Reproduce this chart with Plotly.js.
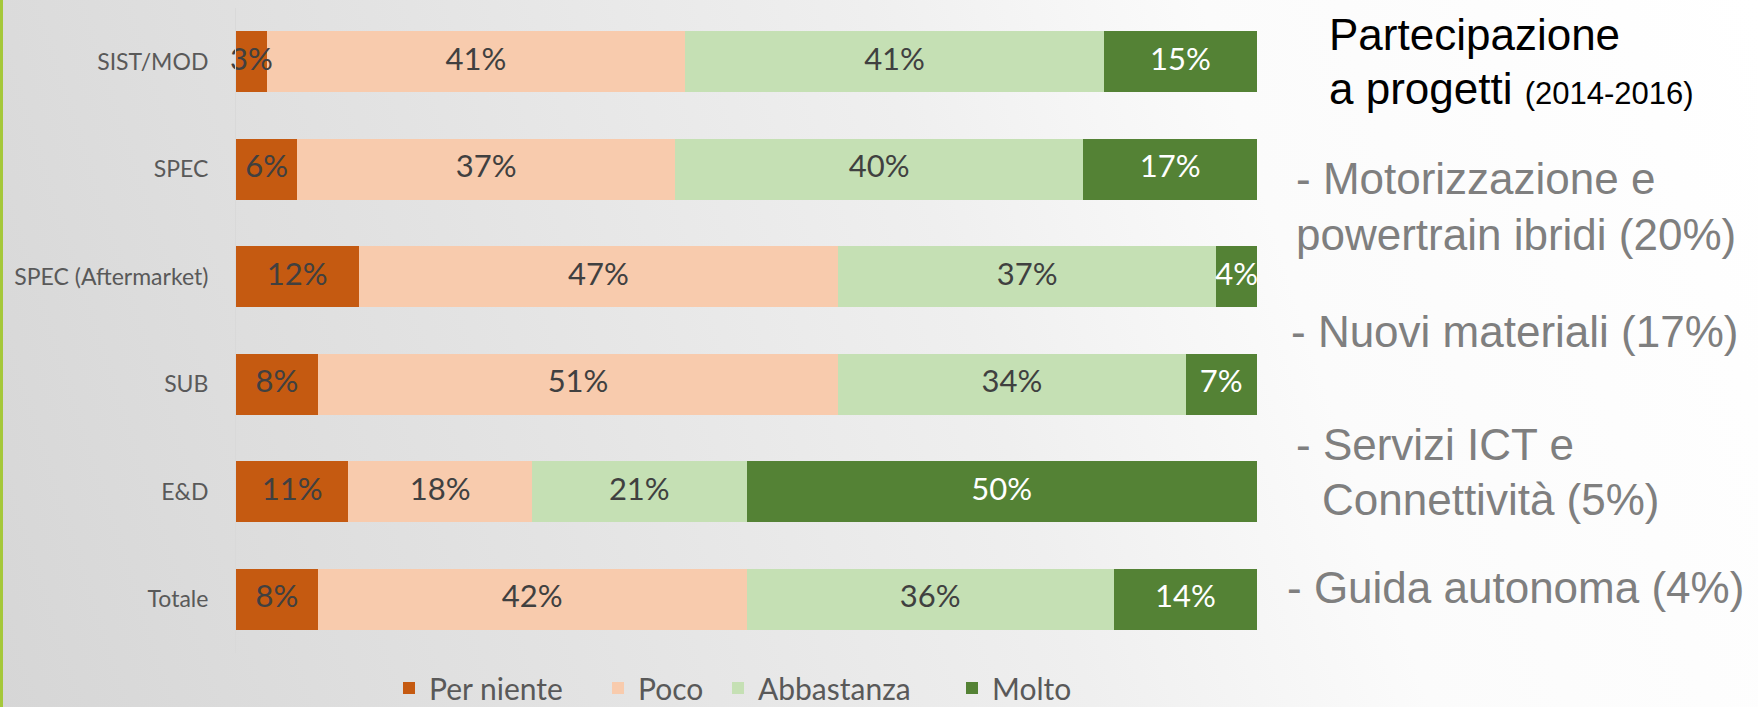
<!DOCTYPE html>
<html>
<head>
<meta charset="utf-8">
<script src="https://cdn.plot.ly/plotly-3.0.1.min.js"></script>
<style>
html, body { margin: 0; padding: 0; }
body {
  width: 1758px; height: 707px; overflow: hidden;
  background: linear-gradient(72deg, #d6d6d6 0%, #e3e3e3 30%, #efefef 55%, #fbfbfb 72%, #ffffff 100%);
}
#chart { width: 1758px; height: 707px; }
</style>
</head>
<body>
<div id="chart"></div>
<script>
// ---- data ----
const categories = ['SIST/MOD', 'SPEC', 'SPEC (Aftermarket)', 'SUB', 'E&D', 'Totale'];
const seriesNames = ['Per niente', 'Poco', 'Abbastanza', 'Molto'];
const perNiente  = [3, 6, 12, 8, 11, 8];
const poco       = [41, 37, 47, 51, 18, 42];
const abbastanza = [41, 40, 37, 34, 21, 36];
const molto      = [15, 17, 4, 7, 50, 14];
const sideTitle = ['Partecipazione', 'a progetti', '(2014-2016)'];
const sideItems = ['- Motorizzazione e', 'powertrain ibridi (20%)', '- Nuovi materiali (17%)',
                   '- Servizi ICT e', 'Connettività (5%)', '- Guida autonoma (4%)'];

// ---- styling ----
const W = 1758, H = 707;
const M = { l: 236, r: 501, t: 8, b: 54 };
const plotW = W - M.l - M.r, plotH = H - M.t - M.b;
const px = x => (x - M.l) / plotW;
const py = y => (H - M.b - y) / plotH;

const barColors = ['#C55A11', '#F8CBAD', '#C5E0B4', '#548235'];
const labelColors = ['#404040', '#404040', '#404040', '#ffffff'];
const series = [perNiente, poco, abbastanza, molto];
const legendIds = ['legend', 'legend2', 'legend3', 'legend4'];
const legendMarkerX = [403, 612, 732, 966];

const traces = series.map((vals, i) => ({
  type: 'bar', orientation: 'h', name: seriesNames[i],
  x: vals, y: categories,
  marker: { color: barColors[i], line: { width: 0 } },
  legend: legendIds[i],
  hoverinfo: 'skip'
}));

// value labels, centred on each stacked segment
const cum = categories.map(() => 0);
const lx = [], ly = [], lt = [], lc = [];
series.forEach((vals, i) => {
  vals.forEach((v, j) => {
    lx.push(cum[j] + v / 2); ly.push(categories[j]);
    lt.push(v + '%'); lc.push(labelColors[i]);
    cum[j] += v;
  });
});
traces.push({
  type: 'scatter', mode: 'text', x: lx, y: ly, text: lt,
  textposition: 'middle center',
  textfont: { family: 'Lato, sans-serif', size: 31, color: lc },
  showlegend: false, hoverinfo: 'skip', cliponaxis: false
});

// side text
const sideLines = [
  { t: sideTitle[0], x: 1327, base: 50, size: 44, color: '#000000' },
  { t: sideTitle[1] + ' <span style="font-size:31px">' + sideTitle[2] + '</span>', x: 1327, base: 104, size: 44, color: '#000000' },
  { t: sideItems[0], x: 1294, base: 194, size: 44, color: '#7f7f7f' },
  { t: sideItems[1], x: 1294, base: 250, size: 44, color: '#7f7f7f' },
  { t: sideItems[2], x: 1289, base: 347, size: 44, color: '#7f7f7f' },
  { t: sideItems[3], x: 1294, base: 460, size: 44, color: '#7f7f7f' },
  { t: sideItems[4], x: 1320, base: 515, size: 44, color: '#7f7f7f' },
  { t: sideItems[5], x: 1285, base: 603, size: 44, color: '#7f7f7f' }
];
const annotations = sideLines.map(s => ({
  xref: 'paper', yref: 'paper', x: px(s.x), y: py(s.base - 0.3465 * s.size),
  xanchor: 'left', yanchor: 'middle', align: 'left', showarrow: false,
  text: s.t, font: { family: '"Liberation Sans", Arial, sans-serif', size: s.size, color: s.color }
}));

const layout = {
  width: W, height: H,
  margin: { l: M.l, r: M.r, t: M.t, b: M.b, pad: 0, autoexpand: false },
  paper_bgcolor: 'rgba(0,0,0,0)', plot_bgcolor: 'rgba(0,0,0,0)',
  barmode: 'stack', bargap: 0.433,
  font: { family: 'Lato, sans-serif', color: '#595959' },
  xaxis: { range: [0, 100], showgrid: false, zeroline: false, showticklabels: false, showline: false, ticks: '' },
  yaxis: {
    type: 'category', autorange: 'reversed', showgrid: false, zeroline: false,
    showline: true, linecolor: '#d9d9d9', linewidth: 1, ticks: '', ticklabelstandoff: 22,
    tickfont: { family: 'Lato, sans-serif', size: 23, color: '#595959' }
  },
  showlegend: true,
  shapes: [{
    type: 'rect', xref: 'paper', yref: 'paper',
    x0: px(0), x1: px(3), y0: py(H), y1: py(0),
    fillcolor: '#a5c83a', line: { width: 0 }, layer: 'above'
  }],
  annotations: annotations
};
legendIds.forEach((id, i) => {
  layout[id] = {
    orientation: 'h', x: px(legendMarkerX[i] - 14), xanchor: 'left', y: py(688), yanchor: 'middle',
    font: { family: 'Lato, sans-serif', size: 30, color: '#595959' },
    bgcolor: 'rgba(0,0,0,0)', borderwidth: 0
  };
});

Plotly.newPlot('chart', traces, layout, { displayModeBar: false, staticPlot: true });
</script>
</body>
</html>
